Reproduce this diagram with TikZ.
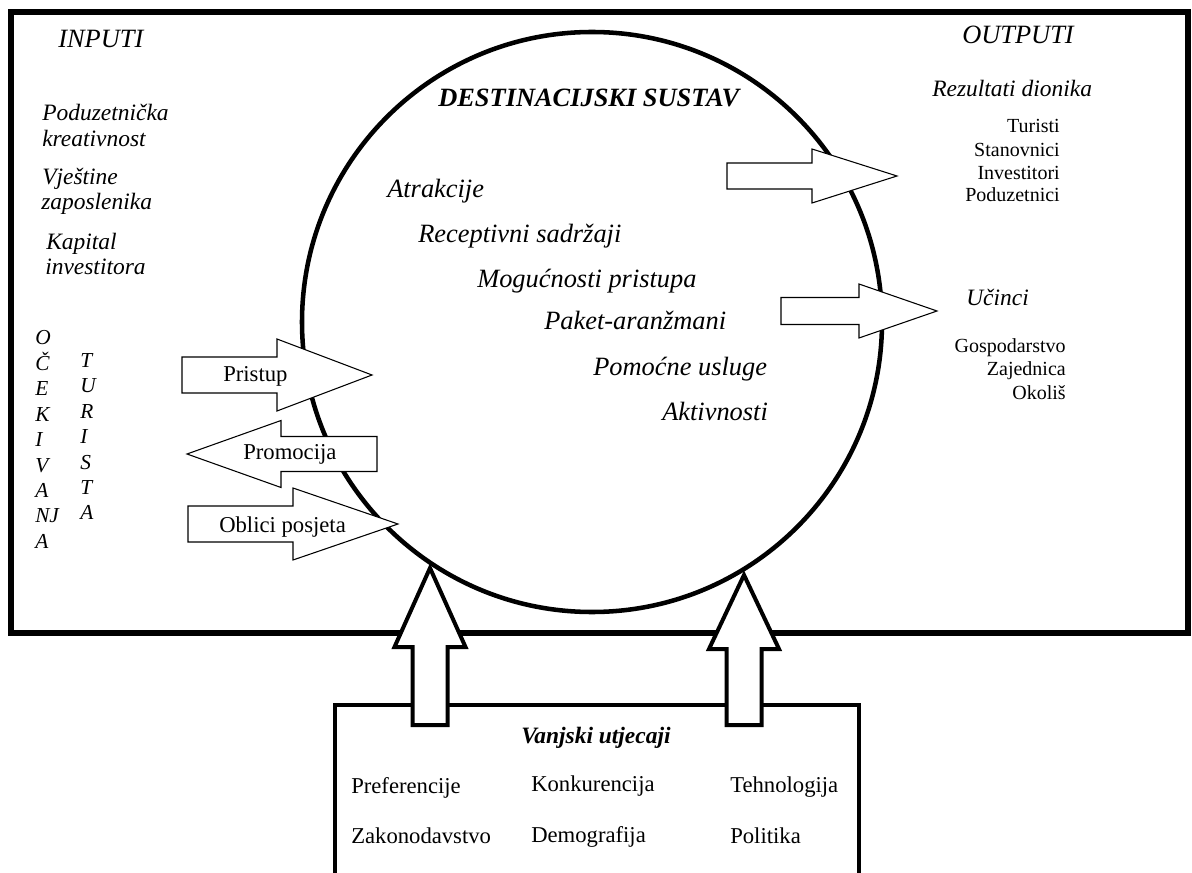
\documentclass[tikz,border=0pt]{standalone}
\usepackage{fontspec}
\setmainfont{Liberation Serif}
\usepackage{tikz}
\usetikzlibrary{calc}
\newcommand{\blockarrow}[6]{\draw[line width=0.8pt,fill=white] (#1,#4-#5) -- (#2,#4-#5) -- (#2,#4-#6) -- (#3,#4) -- (#2,#4+#6) -- (#2,#4+#5) -- (#1,#4+#5) -- cycle;}
\newcommand{\uparrowblock}[6]{\draw[line width=3pt,fill=white] (#1-#5,#2) -- (#1-#5,#3) -- (#1-#6,#3) -- (#1,#4) -- (#1+#6,#3) -- (#1+#5,#3) -- (#1+#5,#2) -- cycle;}
\newcommand{\lablnode}[5]{\node[anchor=base west,inner sep=0pt,#1] (#2) at ( #3 , #4 ) {#5};}
\newcommand{\lablright}[5]{\node[anchor=base east,inner sep=0pt,#1] (#2) at ( #3 , #4 ) {#5};}
\tikzset{
  hdr/.style={font=\fontsize{19.8}{23}\selectfont\itshape},
  side/.style={font=\fontsize{17.6}{20}\selectfont\itshape},
  vert/.style={font=\fontsize{16}{18}\selectfont\itshape},
  plain/.style={font=\fontsize{15}{18}\selectfont},
  albl/.style={font=\fontsize{17}{20}\selectfont},
  ttl/.style={font=\fontsize{19.8}{23}\selectfont\bfseries\itshape},
  vttl/.style={font=\fontsize{17.6}{20}\selectfont\bfseries\itshape}
}

\begin{document}
\begin{tikzpicture}[x=0.75pt,y=-0.75pt]
        \useasboundingbox (0,0) rectangle (1192,873);
        % frames
        \draw[line width=3.8pt] (11,12) rectangle (1188,633);
        \draw[line width=3.4pt] (592,322) circle (290);
        \draw[line width=3pt] (335,873) -- (335,705) -- (859,705) -- (859,873);

        % arrows left
        \blockarrow{182}{277}{372}{375}{18}{36}
        \blockarrow{377}{281}{187}{454}{17.5}{33.5}
        \blockarrow{188}{293}{398}{524}{18}{36}
        % arrows right
        \blockarrow{727}{812}{897}{176}{13}{27}
        \blockarrow{781}{859}{937}{311}{13.5}{27}
        % arrows up
        \uparrowblock{430}{725}{647}{568}{17.5}{35.5}
        \uparrowblock{744}{725}{649}{575}{17.5}{35}

        % inputs
        \lablnode{hdr}{inputi}{58}{48}{INPUTI}
        \lablnode{side}{pod1}{42}{121}{Poduzetnička}
        \lablnode{side}{pod2}{42}{147}{kreativnost}
        \lablnode{side}{vje1}{42}{185}{Vještine}
        \lablnode{side}{vje2}{41}{210}{zaposlenika}
        \lablnode{side}{kap1}{46}{250}{Kapital}
        \lablnode{side}{kap2}{45}{275}{investitora}

        % ocekivanja
        \lablnode{vert}{o1}{35}{345}{O}
        \lablnode{vert}{o2}{35}{370.4}{Č}
        \lablnode{vert}{o3}{35}{395.8}{E}
        \lablnode{vert}{o4}{35}{421.2}{K}
        \lablnode{vert}{o5}{35}{446.6}{I}
        \lablnode{vert}{o6}{35}{472}{V}
        \lablnode{vert}{o7}{35}{497.4}{A}
        \lablnode{vert}{o8}{35}{522.8}{NJ}
        \lablnode{vert}{o9}{35}{548.2}{A}
        % turista
        \lablnode{vert}{t1}{80}{367.5}{T}
        \lablnode{vert}{t2}{80}{392.9}{U}
        \lablnode{vert}{t3}{80}{418.3}{R}
        \lablnode{vert}{t4}{80}{443.7}{I}
        \lablnode{vert}{t5}{80}{469.1}{S}
        \lablnode{vert}{t6}{80}{494.5}{T}
        \lablnode{vert}{t7}{80}{519.9}{A}

        % arrow labels
        \lablnode{albl}{pristup}{223}{382}{Pristup}
        \lablnode{albl}{promocija}{243}{459}{Promocija}
        \lablnode{albl}{oblici}{219}{532}{Oblici posjeta}

        % destination system
        \lablnode{ttl}{sustav}{438}{107}{DESTINACIJSKI SUSTAV}
        \lablnode{hdr}{atr}{387}{198}{Atrakcije}
        \lablnode{hdr}{rec}{418}{243}{Receptivni sadržaji}
        \lablnode{hdr}{mog}{477}{288}{Mogućnosti pristupa}
        \lablnode{hdr}{pak}{544}{330}{Paket-aranžmani}
        \lablnode{hdr}{pom}{593}{376}{Pomoćne usluge}
        \lablnode{hdr}{akt}{662}{421}{Aktivnosti}

        % outputs
        \lablnode{hdr}{outputi}{962}{44}{OUTPUTI}
        \lablnode{side}{rez}{932}{97}{Rezultati dionika}
        \lablright{plain}{tur}{1060}{133}{Turisti}
        \lablright{plain}{sta}{1060}{157}{Stanovnici}
        \lablright{plain}{inv}{1060}{180}{Investitori}
        \lablright{plain}{podu}{1060}{202}{Poduzetnici}
        \lablnode{side}{ucinci}{966}{306}{Učinci}
        \lablright{plain}{gos}{1066}{353}{Gospodarstvo}
        \lablright{plain}{zaj}{1066}{376}{Zajednica}
        \lablright{plain}{oko}{1066}{399}{Okoliš}

        % external influences
        \lablnode{vttl}{vanjski}{521}{743}{Vanjski utjecaji}
        \lablnode{albl}{pref}{351}{793}{Preferencije}
        \lablnode{albl}{konk}{531}{791}{Konkurencija}
        \lablnode{albl}{teh}{730}{792}{Tehnologija}
        \lablnode{albl}{zak}{351}{843}{Zakonodavstvo}
        \lablnode{albl}{dem}{531}{842}{Demografija}
        \lablnode{albl}{pol}{730}{843}{Politika}
    \end{tikzpicture}
\end{document}
